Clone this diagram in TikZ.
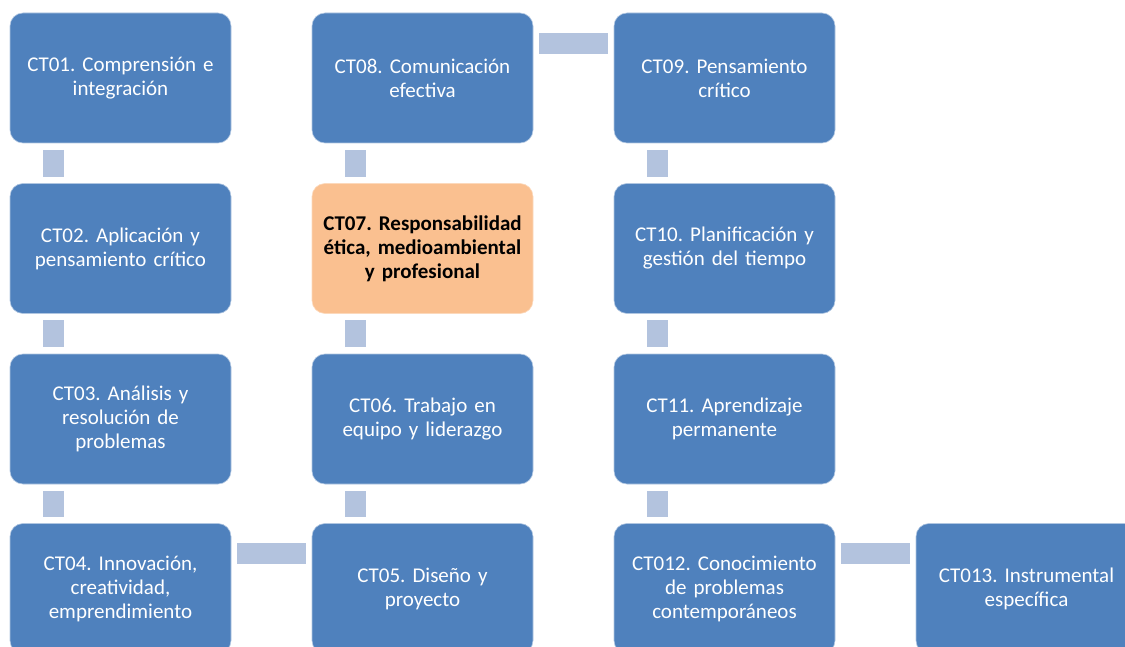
\documentclass[tikz,border=0pt]{standalone}
\usepackage{fontspec}
\setmainfont{Carlito}
\usepackage{tikz}
\definecolor{ctblue}{HTML}{4F81BD}
\definecolor{ctbar}{HTML}{B3C3DE}
\definecolor{ctorange}{HTML}{FAC090}
\frenchspacing

\begin{document}
\begin{tikzpicture}[x=1pt,y=-1pt]
\tikzstyle{every node}+=[inner sep=0pt]
\tikzstyle{ct}=[draw=ctblue!45!white, line width=0.6pt, fill=ctblue, rounded corners=13pt,
  minimum width=221pt, minimum height=130pt, text width=210pt, align=center,
  text=white, font=\fontsize{21}{24}\selectfont]
\tikzstyle{ctkey}=[ct, fill=ctorange, draw=ctorange!60!white, text=black, font=\fontsize{21}{24}\selectfont\bfseries]
\tikzstyle{vbar}=[ctbar, line width=21pt, shorten <=6.5pt, shorten >=6.5pt]
\tikzstyle{hbar}=[ctbar, line width=21pt, shorten <=6pt, shorten >=6pt]
\useasboundingbox (0,0) rectangle (1125,647);
\clip (0,0) rectangle (1125,647);
\node [ct] (ct01) at (120.5,78) {CT01. Comprensión e\\integración};
\node [ct] (ct02) at (120.5,248.5) {CT02. Aplicación y\\pensamiento crítico};
\node [ct] (ct03) at (120.5,419) {CT03. Análisis y\\resolución de\\problemas};
\node [ct] (ct04) at (120.5,588.5) {CT04. Innovación,\\creatividad,\\emprendimiento};
\node [ct] (ct05) at (422.5,588.5) {CT05. Diseño y\\proyecto};
\node [ct] (ct06) at (422.5,419) {CT06. Trabajo en\\equipo y liderazgo};
\node [ctkey] (ct07) at (422.5,248.5) {CT07. Responsabilidad\\ética, medioambiental\\y profesional};
\node [ct] (ct08) at (422.5,78) {CT08. Comunicación\\efectiva};
\node [ct] (ct09) at (724.5,78) {CT09. Pensamiento\\crítico};
\node [ct] (ct10) at (724.5,248.5) {CT10. Planificación y\\gestión del tiempo};
\node [ct] (ct11) at (724.5,419) {CT11. Aprendizaje\\permanente};
\node [ct] (ct12) at (724.5,588.5) {CT012. Conocimiento\\de problemas\\contemporáneos};
\node [ct] (ct13) at (1026.5,588.5) {CT013. Instrumental\\específica};
\draw [vbar] ([xshift=43.5pt]ct01.south west) -- ([xshift=43.5pt]ct02.north west);
\draw [vbar] ([xshift=43.5pt]ct02.south west) -- ([xshift=43.5pt]ct03.north west);
\draw [vbar] ([xshift=43.5pt]ct03.south west) -- ([xshift=43.5pt]ct04.north west);
\draw [hbar] ([yshift=-30.5pt]ct04.north east) -- ([yshift=-30.5pt]ct05.north west);
\draw [vbar] ([xshift=43.5pt]ct05.north west) -- ([xshift=43.5pt]ct06.south west);
\draw [vbar] ([xshift=43.5pt]ct06.north west) -- ([xshift=43.5pt]ct07.south west);
\draw [vbar] ([xshift=43.5pt]ct07.north west) -- ([xshift=43.5pt]ct08.south west);
\draw [hbar] ([yshift=-30.5pt]ct08.north east) -- ([yshift=-30.5pt]ct09.north west);
\draw [vbar] ([xshift=43.5pt]ct09.south west) -- ([xshift=43.5pt]ct10.north west);
\draw [vbar] ([xshift=43.5pt]ct10.south west) -- ([xshift=43.5pt]ct11.north west);
\draw [vbar] ([xshift=43.5pt]ct11.south west) -- ([xshift=43.5pt]ct12.north west);
\draw [hbar] ([yshift=-30.5pt]ct12.north east) -- ([yshift=-30.5pt]ct13.north west);
\end{tikzpicture}
\end{document}
